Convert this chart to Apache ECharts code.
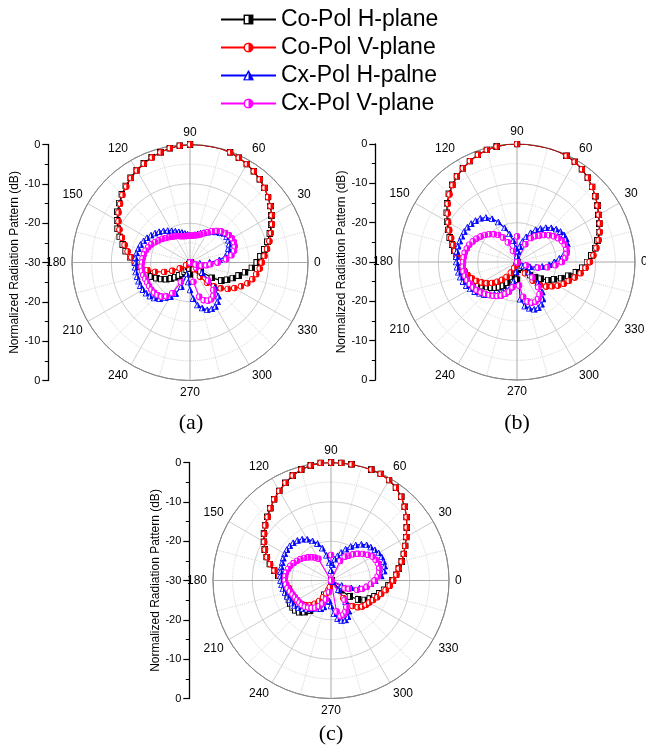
<!DOCTYPE html>
<html>
<head>
<meta charset="utf-8">
<script src="https://cdn.jsdelivr.net/npm/echarts/dist/echarts.min.js"></script>
<style>
  html, body { margin: 0; padding: 0; background: #fff; }
  #chart { width: 646px; height: 747px; }
</style>
</head>
<body>
<div id="chart"></div>
<script>
// sample angles (deg)
var ANGLES = [0, 5, 10, 15, 20, 25, 30, 35, 40, 45, 50, 55,
  60, 65, 70, 75, 80, 85, 90, 95, 100, 105, 110, 115,
  120, 125, 130, 135, 140, 145, 150, 155, 160, 165, 170, 175,
  180, 185, 190, 195, 200, 205, 210, 215, 220, 225, 230, 235,
  240, 245, 250, 255, 260, 265, 270, 275, 280, 285, 290, 295,
  300, 305, 310, 315, 320, 325, 330, 335, 340, 345, 350, 355];

var SERIES_NAMES = ['Co-Pol H-plane', 'Co-Pol V-plane', 'Cx-Pol H-palne', 'Cx-Pol V-plane'];
var ANGLE_LABELS = ['0', '30', '60', '90', '120', '150', '180', '210', '240', '270', '300', '330', ''];
var Y_TICK_LABELS = ['0', '-10', '-20', '-30', '-20', '-10', '0'];
var PANEL_LABELS = ['(a)', '(b)', '(c)'];

// ---- panel (a), dB ----
var A_CO_H = [-13.0, -12.0, -10.8, -9.6, -8.4, -7.2, -6.1, -5.0, -4.1, -3.2, -2.4, -1.7,
  -1.1, -0.6, -0.2, 0, 0, 0, 0, -0.2, -0.5, -1.0, -1.5, -2.2,
  -2.9, -3.7, -4.6, -5.5, -6.5, -7.5, -8.6, -9.7, -11.0, -12.3, -13.4, -14.7,
  -16.0, -17.0, -18.0, -18.8, -19.6, -20.6, -21.6, -22.6, -23.7, -24.7, -25.7, -26.5,
  -27.3, -28.0, -28.8, -29.5, -30, -28.5, -27, -30, -30, -30, -30, -30,
  -30, -30, -30, -29.5, -26.5, -23.2, -20.8, -19.6, -18.4, -17.2, -15.8, -14.2];
var A_CO_V = [-11.8, -11.0, -10.1, -9.1, -8.1, -7.0, -6.0, -5.0, -4.1, -3.2, -2.4, -1.7,
  -1.1, -0.6, -0.2, 0, 0, 0, 0, -0.2, -0.5, -1.0, -1.6, -2.3,
  -3.0, -3.8, -4.8, -5.7, -6.8, -7.8, -9.0, -10.2, -11.6, -12.8, -13.9, -15.0,
  -16.0, -17.3, -19.0, -20.8, -23.0, -25.0, -27.0, -28.8, -30, -30, -30, -30,
  -30, -30, -30, -30, -30, -30, -30, -30, -30, -30, -30, -30,
  -28.0, -25.6, -23.3, -21.4, -19.8, -18.3, -17.0, -15.7, -14.5, -13.6, -12.9, -12.2];
var A_CX_H = [-25.0, -22.5, -20.8, -20.0, -19.6, -19.0, -18.7, -18.6, -18.7, -19.2, -19.9, -20.5,
  -21.1, -21.6, -22.1, -22.5, -22.8, -23.0, -23.0, -22.8, -22.5, -22.1, -21.7, -21.2,
  -20.7, -20.1, -19.5, -18.9, -18.4, -17.9, -17.4, -17.0, -16.6, -16.4, -16.2, -16.1,
  -16.1, -16.0, -16.0, -16.1, -16.1, -16.1, -16.2, -16.4, -16.7, -17.2, -18.0, -19.0,
  -20.0, -21.3, -23.5, -27.0, -30, -25.0, -23.0, -20.8, -19.0, -18.0, -17.2, -17.0,
  -17.1, -17.8, -18.8, -21.0, -26.0, -30, -30, -30, -30, -30, -30, -27.5];
var A_CX_V = [-23.0, -20.8, -19.3, -18.4, -17.9, -17.7, -17.7, -17.9, -18.3, -18.8, -19.5, -20.3,
  -21.1, -21.8, -22.4, -22.8, -23.0, -23.1, -23.2, -23.2, -23.2, -23.1, -22.9, -22.6,
  -22.3, -22.0, -21.6, -21.2, -20.7, -20.2, -19.7, -19.1, -18.7, -18.3, -18.1, -17.9,
  -17.8, -17.6, -17.6, -17.7, -17.9, -18.0, -18.0, -18.0, -18.1, -18.3, -18.7, -19.5,
  -21.0, -24.5, -30, -30, -30, -30, -30, -30, -25.0, -21.0, -19.8, -19.3,
  -19.2, -19.7, -20.8, -23.5, -28.0, -30, -30, -30, -28.5, -27.0, -25.8, -24.8];

// ---- panel (b), dB ----
var B_CO_H = [-12.2, -11.0, -9.8, -8.8, -7.8, -6.9, -6.1, -5.0, -4.0, -3.0, -2.0, -1.2,
  -0.6, -0.2, 0, 0, 0, 0, 0, 0, -0.2, -0.5, -1.0, -1.7,
  -2.5, -3.4, -4.4, -5.5, -6.8, -8.2, -9.5, -10.7, -11.8, -12.9, -13.8, -14.6,
  -15.3, -15.8, -16.3, -16.8, -17.3, -17.8, -18.6, -19.3, -20.1, -20.8, -21.5, -22.2,
  -23.0, -24.2, -26.0, -28.0, -30, -28.0, -25.5, -28.0, -30, -30, -30, -30,
  -30, -28.3, -26.8, -25.3, -24.0, -22.6, -20.8, -19.6, -18.0, -16.5, -14.8, -13.3];
var B_CO_V = [-11.5, -10.5, -9.5, -8.5, -7.6, -6.8, -6.0, -5.0, -4.0, -3.0, -2.0, -1.2,
  -0.6, -0.2, 0, 0, 0, 0, 0, 0, -0.2, -0.5, -1.0, -1.7,
  -2.5, -3.4, -4.5, -5.7, -7.0, -8.5, -9.8, -11.0, -12.2, -13.2, -14.0, -14.8,
  -15.5, -16.0, -16.5, -17.0, -17.8, -18.6, -19.6, -20.6, -21.7, -22.9, -24.1, -25.4,
  -26.9, -28.3, -29.5, -30, -30, -30, -30, -30, -30, -30, -30, -30,
  -29.5, -26.5, -23.8, -21.7, -20.3, -19.2, -18.0, -16.9, -16.0, -14.8, -13.6, -12.5];
var B_CX_H = [-20.5, -19.2, -17.8, -16.9, -16.4, -16.2, -16.2, -16.5, -17.0, -17.7, -18.6, -19.6,
  -20.5, -21.8, -23.2, -24.6, -26.0, -27.3, -28.5, -26.5, -24.5, -22.6, -20.8, -18.8,
  -17.3, -16.2, -15.5, -15.1, -14.8, -14.6, -14.5, -14.5, -14.5, -14.5, -14.5, -14.5,
  -14.6, -14.7, -14.9, -15.1, -15.4, -15.8, -16.3, -16.9, -17.6, -18.3, -19.2, -20.0,
  -20.8, -21.6, -22.3, -23.3, -25.0, -27.5, -30, -20.5, -18.6, -17.8, -17.2, -17.2,
  -17.6, -18.5, -20.0, -22.5, -26.0, -28.5, -28.0, -27.5, -26.5, -25.0, -23.5, -21.8];
var B_CX_V = [-18.6, -17.7, -17.2, -17.0, -17.1, -17.4, -17.9, -18.6, -19.4, -20.3, -21.2, -22.0,
  -23.0, -25.0, -30, -30, -30, -30, -23.5, -30, -30, -30, -27.0, -24.5,
  -22.8, -21.6, -20.8, -20.0, -19.3, -18.7, -18.1, -17.6, -17.1, -16.8, -16.5, -16.4,
  -16.3, -16.2, -16.2, -16.3, -16.5, -16.8, -17.1, -17.5, -18.0, -18.5, -19.0, -19.5,
  -20.0, -20.6, -21.4, -22.2, -23.5, -30, -30, -24.0, -21.0, -19.6, -19.0, -18.9,
  -19.2, -20.0, -21.6, -24.5, -30, -30, -30, -30, -27.5, -24.5, -22.2, -20.2];

// ---- panel (c), dB ----
var C_CO_H = [-14.3, -13.4, -12.5, -11.4, -10.3, -9.2, -7.9, -6.5, -4.9, -3.5, -2.2, -1.2,
  -0.5, -0.1, 0, 0, 0, 0, 0, 0, -0.3, -0.8, -1.6, -2.6,
  -3.7, -4.8, -6.0, -7.1, -8.1, -9.2, -10.3, -11.4, -12.6, -13.9, -15.3, -16.6,
  -17.6, -18.0, -18.2, -18.3, -18.3, -18.2, -18.1, -18.1, -18.2, -18.6, -19.5, -20.7,
  -22.5, -26.0, -30, -30, -30, -30, -30, -30, -30, -30, -30, -30,
  -30, -30, -30, -26.5, -23.7, -21.6, -20.1, -19.1, -18.2, -17.3, -16.3, -15.3];
var C_CO_V = [-14.2, -13.3, -12.5, -11.4, -10.3, -9.2, -7.9, -6.5, -4.9, -3.5, -2.2, -1.2,
  -0.5, -0.1, 0, 0, 0, 0, 0, 0, -0.3, -0.8, -1.6, -2.6,
  -3.7, -4.8, -6.0, -7.2, -8.2, -9.3, -10.4, -11.5, -12.7, -14.0, -15.4, -16.8,
  -17.8, -18.6, -19.1, -19.3, -19.5, -19.7, -19.9, -20.2, -20.5, -21.0, -21.8, -22.8,
  -24.0, -25.3, -26.5, -27.6, -28.3, -30, -30, -30, -30, -30, -30, -30,
  -30, -24.5, -21.5, -20.4, -19.7, -19.2, -18.8, -18.2, -17.5, -16.8, -15.9, -15.0];
var C_CX_H = [-18.8, -17.2, -16.3, -15.9, -15.8, -15.8, -16.0, -16.4, -16.8, -17.2, -18.0, -19.0,
  -20.0, -21.2, -22.4, -23.5, -24.5, -26.0, -27.5, -25.5, -23.5, -21.5, -20.0, -18.9,
  -17.9, -17.2, -16.7, -16.4, -16.3, -16.3, -16.4, -16.6, -16.8, -16.9, -17.0, -17.1,
  -17.2, -17.4, -17.6, -17.9, -18.2, -18.4, -18.5, -18.7, -19.2, -19.8, -20.5, -21.3,
  -21.9, -22.2, -22.4, -23.0, -24.5, -24.8, -23.5, -21.5, -20.2, -19.5, -19.3, -19.8,
  -21.0, -23.5, -27.0, -30, -30, -30, -29.5, -27.0, -24.5, -22.5, -21.0, -19.8];
var C_CX_V = [-18.9, -18.1, -17.6, -17.3, -17.3, -17.5, -17.8, -18.6, -19.5, -20.4, -21.3, -22.3,
  -23.0, -24.5, -30, -30, -30, -30, -23.5, -30, -30, -30, -30, -30,
  -23.6, -22.9, -22.3, -21.7, -21.1, -20.5, -20.0, -19.5, -19.0, -18.7, -18.4, -18.3,
  -18.3, -18.5, -18.8, -19.2, -19.6, -19.9, -20.1, -20.2, -20.3, -20.6, -21.0, -21.5,
  -22.0, -22.8, -23.8, -25.0, -27.0, -30, -30, -30, -22.0, -20.6, -20.8, -21.3,
  -22.2, -24.0, -30, -30, -30, -30, -26.0, -25.0, -23.0, -21.8, -20.8, -19.8];

var PANELS = [
  [A_CO_H, A_CO_V, A_CX_H, A_CX_V],
  [B_CO_H, B_CO_V, B_CX_H, B_CX_V],
  [C_CO_H, C_CO_V, C_CX_H, C_CX_V]
];

// layout
var CENTERS = [[190, 262.5], [517, 262], [331, 580.5]];
var RADIUS = 118;
var COLORS = ['#000000', '#ff0000', '#0000ff', '#ff00ff'];
var SHAPES = ['rect', 'circle', 'triangle', 'circle'];

// half filled markers (Origin style)
function marker(shape, c) {
  var s;
  if (shape === 'rect') {
    s = '<rect x="1" y="1" width="10" height="10" fill="#fff" stroke="' + c + '" stroke-width="1.8"/>' +
        '<rect x="6" y="1" width="5" height="10" fill="' + c + '"/>';
  } else if (shape === 'triangle') {
    s = '<path d="M6 1 L11.3 11 L0.7 11 Z" fill="#fff" stroke="' + c + '" stroke-width="1.6"/>' +
        '<path d="M6 1 L11.3 11 L6 11 Z" fill="' + c + '"/>';
  } else {
    s = '<circle cx="6" cy="6" r="5" fill="#fff" stroke="' + c + '" stroke-width="1.8"/>' +
        '<path d="M6 1 A5 5 0 0 1 6 11 Z" fill="' + c + '"/>';
  }
  var svg = '<svg xmlns="http://www.w3.org/2000/svg" width="12" height="12" viewBox="0 0 12 12">' + s + '</svg>';
  return 'image://data:image/svg+xml;charset=utf-8,' + encodeURIComponent(svg);
}

var FONT = '"Liberation Sans", Arial, sans-serif';
var chart = echarts.init(document.getElementById('chart'), null, { renderer: 'canvas' });

var polar = [], angleAxis = [], radiusAxis = [], grid = [], xAxis = [], yAxis = [], series = [], graphic = [];

CENTERS.forEach(function (c, p) {
  polar.push({ center: c, radius: RADIUS });
  angleAxis.push({
    polarIndex: p, type: 'value', min: 0, max: 360, interval: 30,
    startAngle: 0, clockwise: false,
    axisLine: { lineStyle: { color: '#8a8a8a', width: 1 } },
    axisTick: { show: false },
    axisLabel: {
      margin: 6, fontSize: 12, color: '#000', fontFamily: FONT,
      formatter: function (v, i) { return ANGLE_LABELS[v / 30] || ''; }
    },
    splitLine: { show: true, lineStyle: { color: ['#a9a9a9', '#cdcdcd', '#cdcdcd'], width: 1 } },
    minorTick: { show: false, splitNumber: 2 },
    minorSplitLine: { show: true, lineStyle: { color: '#d6d6d6', type: 'dotted', width: 1 } }
  });
  radiusAxis.push({
    polarIndex: p, type: 'value', min: -30, max: 0, interval: 10,
    axisLine: { show: false }, axisTick: { show: false }, axisLabel: { show: false },
    splitLine: { show: true, lineStyle: { color: ['#cdcdcd', '#cdcdcd', '#cdcdcd', '#8a8a8a'], width: 1 } },
    minorTick: { show: false, splitNumber: 2 },
    minorSplitLine: { show: true, lineStyle: { color: '#d6d6d6', type: 'dotted', width: 1 } }
  });

  // left dB scale
  grid.push({ left: c[0] - 141.7, top: c[1] - RADIUS, width: 1, height: RADIUS * 2 });
  xAxis.push({ gridIndex: p, type: 'value', show: false });
  yAxis.push({
    gridIndex: p, type: 'value', min: -30, max: 30, interval: 10,
    axisLine: { show: true, lineStyle: { color: '#000', width: 1.3 } },
    axisTick: { show: true, length: 6, lineStyle: { color: '#000', width: 1.2 } },
    minorTick: { show: true, splitNumber: 2, length: 3.5, lineStyle: { color: '#000', width: 1 } },
    splitLine: { show: false },
    axisLabel: {
      margin: 8, fontSize: 11, color: '#000', fontFamily: FONT,
      formatter: function (v, i) { return Y_TICK_LABELS[i]; }
    },
    name: 'Normalized Radiation Pattern (dB)', nameLocation: 'middle', nameGap: 28,
    nameTextStyle: { fontSize: 12, color: '#000', fontFamily: FONT }
  });

  PANELS[p].forEach(function (vals, k) {
    var pts = ANGLES.map(function (a, i) { return [vals[i], a]; });
    pts.push([vals[0], 360]);
    series.push({
      name: SERIES_NAMES[k], type: 'line', coordinateSystem: 'polar', polarIndex: p,
      data: pts,
      symbol: marker(SHAPES[k], COLORS[k]), symbolSize: 7, showSymbol: true, showAllSymbol: true,
      lineStyle: { color: COLORS[k], width: 1.2 },
      itemStyle: { color: COLORS[k] },
      emphasis: { disabled: true }, silent: true, animation: false
    });
  });
});

var SERIF = '22px "Liberation Serif", "Times New Roman", serif';
graphic = [
  { type: 'text', x: 191, y: 423, style: { text: PANEL_LABELS[0], font: SERIF, fill: '#000', align: 'center', verticalAlign: 'middle' } },
  { type: 'text', x: 517, y: 423, style: { text: PANEL_LABELS[1], font: SERIF, fill: '#000', align: 'center', verticalAlign: 'middle' } },
  { type: 'text', x: 331, y: 734, style: { text: PANEL_LABELS[2], font: SERIF, fill: '#000', align: 'center', verticalAlign: 'middle' } }
];

chart.setOption({
  backgroundColor: '#fff',
  animation: false,
  legend: {
    orient: 'vertical', left: 215, top: 3,
    itemWidth: 55, itemHeight: 13, itemGap: 5,
    data: SERIES_NAMES,
    textStyle: { fontSize: 23, color: '#000', fontFamily: FONT },
    lineStyle: { width: 2 }
  },
  polar: polar,
  angleAxis: angleAxis,
  radiusAxis: radiusAxis,
  grid: grid,
  xAxis: xAxis,
  yAxis: yAxis,
  graphic: graphic,
  series: series
});
window.addEventListener('resize', function () { chart.resize(); });
</script>
</body>
</html>
